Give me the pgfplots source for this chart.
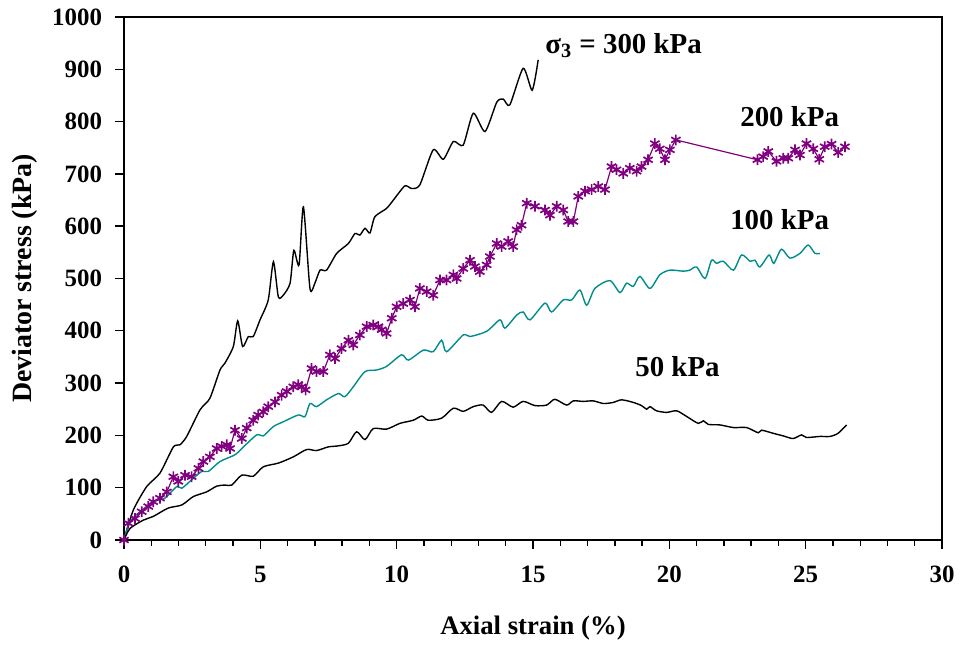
\documentclass[border=0pt]{standalone}
\usepackage{fontspec}
\setmainfont{Liberation Serif}
\usepackage{pgfplots}
\pgfplotsset{compat=1.18}
\definecolor{curvepurple}{RGB}{128,0,128}
\definecolor{curveteal}{RGB}{0,140,140}
\begin{document}
\begin{tikzpicture}
\begin{axis}[
    at={(0,0)}, anchor=south west,
    scale only axis,
    width=409bp, height=261.5bp,
    xmin=0, xmax=30, ymin=0, ymax=1000,
    xtick={0,5,...,30}, minor x tick num=4,
    ytick={0,100,...,1000},
    tick pos=left,
    tick align=outside,
    major tick length=4.5bp,
    minor tick length=3bp,
    tick style={black, line width=0.7pt},
    axis line style={line width=0.7pt},
    /pgf/number format/assume math mode=true,
    /pgf/number format/1000 sep={},
    scaled ticks=false,
    tick label style={font=\fontsize{12.5}{14}\selectfont\bfseries},
    xticklabel style={yshift=-5bp},
    yticklabel style={xshift=-3bp},
    xlabel={Axial strain (\%)},
    ylabel={Deviator stress (kPa)},
    every axis x label/.style={at={(axis description cs:0.5,-0.168)}, anchor=center, font=\fontsize{13.4}{15}\selectfont\bfseries},
    every axis y label/.style={at={(axis description cs:-0.121,0.5)}, rotate=90, anchor=center, font=\fontsize{14}{16}\selectfont\bfseries},
]
% sigma3 = 300 kPa
\addplot[black, line width=0.7pt, smooth, tension=0.4] coordinates {
(0,0) (0.34,57) (0.83,102) (1.32,128) (1.81,178) (2.05,182) (2.30,198) (2.79,249) (3.15,271) (3.52,325) (3.70,338) (4.01,370) (4.17,419) (4.35,370) (4.56,389) (4.74,389) (4.99,421) (5.29,459) (5.48,532) (5.66,465) (5.84,468) (6.09,491) (6.23,554) (6.42,526) (6.58,637) (6.82,481) (7.00,491) (7.19,516) (7.43,516) (7.80,548) (8.23,567) (8.47,586) (8.65,583) (8.84,596) (9.02,587) (9.20,618) (9.63,634) (9.88,650) (10.3,677) (10.55,672) (10.85,679) (11.34,746) (11.71,728) (12.08,762) (12.44,755) (12.81,816) (13.24,781) (13.67,837) (13.91,843) (14.15,832) (14.64,902) (14.97,860) (15.19,918)
};
% 200 kPa
\addplot[curvepurple, line width=0.6pt, mark=asterisk, mark size=2.7pt, mark options={line width=0.85pt}] coordinates {
(0,0) (0.16,32) (0.40,41) (0.65,54) (0.89,64) (1.07,73) (1.32,80) (1.57,92) (1.81,121) (1.99,112) (2.24,124) (2.48,121) (2.73,137) (2.91,150) (3.15,159) (3.40,175) (3.58,179) (3.77,182) (3.89,175) (4.07,210) (4.32,194) (4.50,214) (4.74,229) (4.92,239) (5.11,245) (5.29,255) (5.54,264) (5.78,277) (5.97,284) (6.21,293) (6.39,297) (6.52,293) (6.66,287) (6.88,328) (7.06,322) (7.31,322) (7.55,354) (7.74,347) (7.98,366) (8.23,382) (8.41,373) (8.65,392) (8.90,408) (9.14,411) (9.33,408) (9.45,402) (9.63,395) (9.82,424) (10.00,446) (10.24,452) (10.49,459) (10.67,446) (10.85,481) (11.10,475) (11.34,468) (11.59,497) (11.83,497) (12.08,507) (12.20,500) (12.44,519) (12.69,535) (12.87,523) (13.05,513) (13.30,526) (13.42,542) (13.67,567) (13.85,561) (14.09,571) (14.27,561) (14.40,593) (14.58,602) (14.77,644) (15.07,638) (15.44,631) (15.62,621) (15.87,638) (16.11,631) (16.29,609) (16.48,609) (16.66,657) (16.91,667) (17.15,670) (17.39,676) (17.64,670) (17.88,714) (18.06,708) (18.31,701) (18.55,711) (18.80,705) (18.98,714) (19.22,727) (19.47,758) (19.65,748) (19.84,727) (20.02,746) (20.24,765) (23.23,727) (23.44,733) (23.63,743) (23.93,724) (24.18,730) (24.36,730) (24.61,746) (24.79,736) (25.03,758) (25.28,748) (25.50,728) (25.70,752) (25.95,757) (26.19,741) (26.44,752)
};
% 100 kPa
\addplot[curveteal, line width=0.7pt, smooth, tension=0.45] coordinates {
(0,0) (0.22,35) (0.59,54) (1.07,73) (1.50,80) (1.93,102) (2.12,99) (2.48,115) (2.85,131) (3.09,131) (3.52,150) (4.07,163) (4.38,178) (4.87,201) (5.11,199) (5.48,217) (5.84,226) (6.39,239) (6.64,236) (6.82,261) (7.06,255) (7.43,268) (7.86,280) (8.10,274) (8.41,293) (8.84,322) (9.26,325) (9.63,332) (10.18,354) (10.43,344) (10.98,363) (11.34,360) (11.65,382) (11.83,360) (12.44,392) (12.69,389) (13.30,399) (13.79,421) (13.97,405) (14.40,430) (14.64,436) (14.89,421) (15.44,453) (15.68,436) (16.11,459) (16.42,459) (16.72,478) (16.97,449) (17.27,481) (17.82,496) (18.19,473) (18.43,491) (18.68,485) (18.92,504) (19.29,481) (19.65,507) (20.02,516) (20.51,514) (20.75,516) (21.00,522) (21.31,500) (21.55,535) (21.73,529) (21.98,533) (22.35,516) (22.65,545) (22.96,533) (23.14,535) (23.32,522) (23.66,545) (23.83,529) (24.11,556) (24.42,539) (24.79,548) (25.09,564) (25.34,548) (25.52,548)
};
% 50 kPa
\addplot[black, line width=0.7pt, smooth, tension=0.45] coordinates {
(0,0) (0.22,22) (0.71,38) (1.07,45) (1.62,61) (2.12,67) (2.54,83) (3.03,92) (3.40,103) (3.70,105) (3.95,105) (4.32,124) (4.74,122) (5.11,140) (5.66,147) (6.21,159) (6.70,173) (7.06,171) (7.49,178) (7.86,180) (8.23,185) (8.53,207) (8.84,192) (9.14,213) (9.63,212) (10.12,223) (10.61,229) (10.92,237) (11.16,229) (11.65,233) (12.08,252) (12.44,246) (12.81,255) (13.17,258) (13.48,244) (13.85,265) (14.27,254) (14.64,265) (15.07,257) (15.50,258) (15.80,269) (16.23,258) (16.48,266) (16.84,265) (17.21,266) (17.58,261) (17.94,263) (18.25,268) (18.68,263) (18.98,257) (19.17,250) (19.29,255) (19.53,247) (19.90,244) (20.27,247) (20.64,236) (21.06,223) (21.25,228) (21.43,221) (21.86,220) (22.35,215) (22.83,215) (23.26,205) (23.38,210) (23.81,204) (24.18,199) (24.54,194) (24.85,201) (25.03,196) (25.52,198) (25.89,198) (26.19,204) (26.50,220)
};
\node[anchor=west, font=\fontsize{14.5}{16}\selectfont\bfseries, inner sep=0pt] at (axis cs:15.44,946) {σ\textsubscript{3} = 300 kPa};
\node[anchor=west, font=\fontsize{14.5}{16}\selectfont\bfseries, inner sep=0pt] at (axis cs:22.59,809) {200 kPa};
\node[anchor=west, font=\fontsize{14.5}{16}\selectfont\bfseries, inner sep=0pt] at (axis cs:22.22,612) {100 kPa};
\node[anchor=west, font=\fontsize{14.5}{16}\selectfont\bfseries, inner sep=0pt] at (axis cs:18.74,331) {50 kPa};
\end{axis}
\pgfresetboundingbox
\path (-62bp,-53.5bp) rectangle (418.5bp,270bp);
\end{tikzpicture}
\end{document}
